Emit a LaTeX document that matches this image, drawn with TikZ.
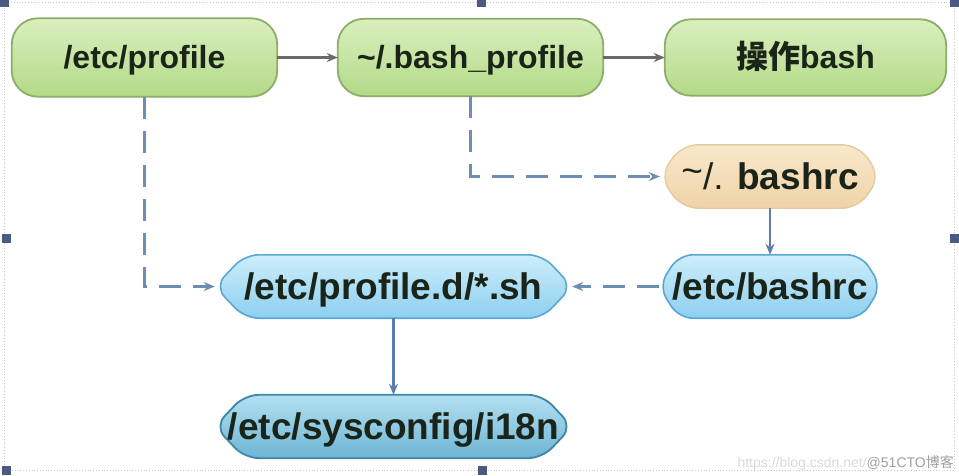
\documentclass[tikz,border=0pt]{standalone}
\usepackage{fontspec}
\setmainfont{Liberation Sans}
\newfontfamily\cjk{Noto Sans CJK SC}
\usetikzlibrary{arrows.meta}
\pgfdeclarelayer{background}
\pgfsetlayers{background,main}
\definecolor{txt}{HTML}{1B2418}
\definecolor{gfillT}{HTML}{D9EFBF}
\definecolor{gfillB}{HTML}{B3DA86}
\definecolor{gline}{HTML}{8CAE6A}
\definecolor{tfillT}{HTML}{F8E8CC}
\definecolor{tfillB}{HTML}{EFD3A6}
\definecolor{tline}{HTML}{E3CB9E}
\definecolor{bfillT}{HTML}{CDEEFC}
\definecolor{bfillB}{HTML}{8DCFEF}
\definecolor{bline}{HTML}{5AA6D2}
\definecolor{dfillT}{HTML}{B3E0F1}
\definecolor{dfillB}{HTML}{6DB5D4}
\definecolor{dline}{HTML}{3E86A6}
\definecolor{dashc}{HTML}{6E8DB2}
\definecolor{solc}{HTML}{6A6A6A}
\definecolor{vsol}{HTML}{5C7EAE}
\definecolor{handle}{HTML}{4A5A82}
\newcommand\myhex[3]{%
  \path[#3] ([xshift=#2]#1.north west) -- ([xshift=-#2]#1.north east) -- (#1.east)
    -- ([xshift=-#2]#1.south east) -- ([xshift=#2]#1.south west) -- (#1.west) -- cycle;}
\tikzset{
  box/.style={inner sep=0pt, text=txt, text height=22pt, text depth=0pt, font=\fontsize{32}{38}\selectfont\bfseries},
  bigbox/.style={inner sep=0pt, text=txt, text height=25pt, text depth=0pt, font=\fontsize{37}{44}\selectfont\bfseries},
  gshape/.style={top color=gfillT, bottom color=gfillB, draw=gline, line width=1.8pt, rounded corners=26pt},
  tshape/.style={top color=tfillT, bottom color=tfillB, draw=tline, line width=1.4pt, rounded corners=16pt},
  bshape/.style={top color=bfillT, bottom color=bfillB, draw=bline, line width=1.6pt, rounded corners=14pt},
  dshape/.style={top color=dfillT, bottom color=dfillB, draw=dline, line width=1.8pt, rounded corners=14pt},
  tip/.style={-{Stealth[length=11pt,width=9pt]}},
  solidarrow/.style={tip, draw=solc, line width=3pt},
  vertarrow/.style={tip, draw=vsol, line width=2.4pt},
  dasharrow/.style={tip, draw=dashc, line width=2.6pt, dash pattern=on 22pt off 12pt},
  handlebox/.style={fill=handle, minimum size=9pt, inner sep=0pt},
}
\begin{document}
\begin{tikzpicture}[x=1pt,y=-1pt]
\useasboundingbox (0,0) rectangle (959,475);
% selection frame
\draw[gray!45, line width=0.8pt, dotted] (4,2) rectangle (954,470);
\node[handlebox] (h1) at (4,2) {};
\node[handlebox] (h2) at (481,2) {};
\node[handlebox] (h3) at (954,2) {};
\node[handlebox] (h4) at (6,238) {};
\node[handlebox] (h5) at (954,238) {};
\node[handlebox] (h6) at (6,470) {};
\node[handlebox] (h7) at (482,470) {};
% nodes
\node[box, minimum width=265pt, minimum height=78pt] (prof) at (144.5,57.5) {/etc/profile};
\node[box, minimum width=265pt, minimum height=77pt] (bprof) at (470.5,57.5) {\textasciitilde/.bash\_profile};
\node[box, minimum width=281pt, minimum height=76pt] (op) at (805.5,57.5) {{\cjk\bfseries 操作}bash};
\node[bigbox, minimum width=220pt, minimum height=63pt] (brc) at (770,176.5) {{\mdseries\raisebox{0.3ex}{\textasciitilde}/.} bashrc};
\node[bigbox, minimum width=222pt, minimum height=63pt] (ebrc) at (770,286.5) {/etc/bashrc};
\node[bigbox, minimum width=357pt, minimum height=63pt] (pd) at (393.5,286.5) {/etc/profile.d/*.sh};
\node[bigbox, minimum width=357pt, minimum height=63pt] (i18n) at (393.5,426.5) {/etc/sysconfig/i18n};
% shapes behind
\begin{pgfonlayer}{background}
  \path[gshape] (prof.north west) rectangle (prof.south east);
  \path[gshape] (bprof.north west) rectangle (bprof.south east);
  \path[gshape] (op.north west) rectangle (op.south east);
  \myhex{brc}{22pt}{tshape}
  \myhex{ebrc}{20pt}{bshape}
  \myhex{pd}{30pt}{bshape}
  \myhex{i18n}{30pt}{dshape}
\end{pgfonlayer}
% connectors
\draw[solidarrow] (prof.east) -- (bprof.west);
\draw[solidarrow] (bprof.east) -- (op.west);
\draw[dasharrow] (prof.south) |- (pd.west);
\draw[dasharrow] (bprof.south) |- (brc.west);
\draw[vertarrow] (brc.south) -- (ebrc.north);
\draw[dasharrow] (ebrc.west) -- (pd.east);
\draw[vertarrow] (pd.south) -- (i18n.north);
% watermark
\node[anchor=south east, inner sep=0pt, font=\fontsize{14}{16}\selectfont] (wm) at (954,471)
  {\textcolor{gray!30}{https://blog.csdn.net/}\textcolor{gray!75}{@51CTO{\cjk 博客}}};
\end{tikzpicture}
\end{document}
